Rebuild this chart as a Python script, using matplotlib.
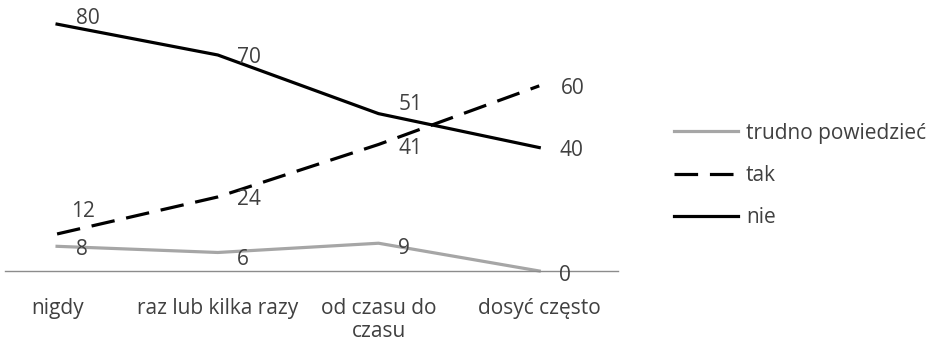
import matplotlib.pyplot as plt

plt.rcParams['font.family'] = ['Open Sans', 'DejaVu Sans']
plt.rcParams['lines.scale_dashes'] = False

categories = ['nigdy', 'raz lub kilka razy', 'od czasu do\nczasu', 'dosyć często']
trudno = [8, 6, 9, 0]
tak = [12, 24, 41, 60]
nie = [80, 70, 51, 40]

text_color = '#404040'
fs = 15
fig = plt.figure(figsize=(9.35, 3.43), dpi=100)
ax = fig.add_axes([5 / 935, 72 / 343, 613 / 935, 266 / 343])

x = list(range(len(categories)))
ax.plot(x, trudno, color='#a6a6a6', lw=2.3, label='trudno powiedzieć', clip_on=False)
ax.plot(x, tak, color='black', lw=2.3, dashes=(17, 8.5), label='tak', clip_on=False)
ax.plot(x, nie, color='black', lw=2.3, label='nie', clip_on=False)

# value label offsets in points, one per point of each series
offsets = {
    'trudno': [(18, -0.7), (18, -3.2), (18, -2.2), (18.7, -1.4)],
    'tak': [(19, 17.6), (22.3, -0.4), (23, -1.1), (23.8, 0)],
    'nie': [(22.3, 5.4), (22.3, 0), (23, 7.9), (23, -0.7)],
}
for series, key in [(trudno, 'trudno'), (tak, 'tak'), (nie, 'nie')]:
    for xi, v, (dx, dy) in zip(x, series, offsets[key]):
        ax.annotate(str(v), (xi, v), xytext=(dx, dy - 1.6), textcoords='offset points',
                    ha='center', va='center', fontsize=fs, color=text_color)

ax.set_xlim(-0.324, 3.49)
ax.set_ylim(0, 86.2)
ax.set_xticks(x)
ax.set_xticklabels(categories, fontsize=fs, color=text_color, linespacing=1.12)
ax.tick_params(axis='x', length=0, pad=19.5)
ax.set_yticks([])
for s in ['top', 'right', 'left']:
    ax.spines[s].set_visible(False)
ax.spines['bottom'].set_color('#8c8c8c')
ax.spines['bottom'].set_linewidth(1)

leg = fig.legend(loc='upper left', bbox_to_anchor=(655 / 935, 1 - 104 / 343),
                 frameon=False, fontsize=fs, handlelength=3.07, handletextpad=0.4,
                 labelspacing=1.02)
for t in leg.get_texts():
    t.set_color(text_color)

fig.savefig('out.png', dpi=100)
